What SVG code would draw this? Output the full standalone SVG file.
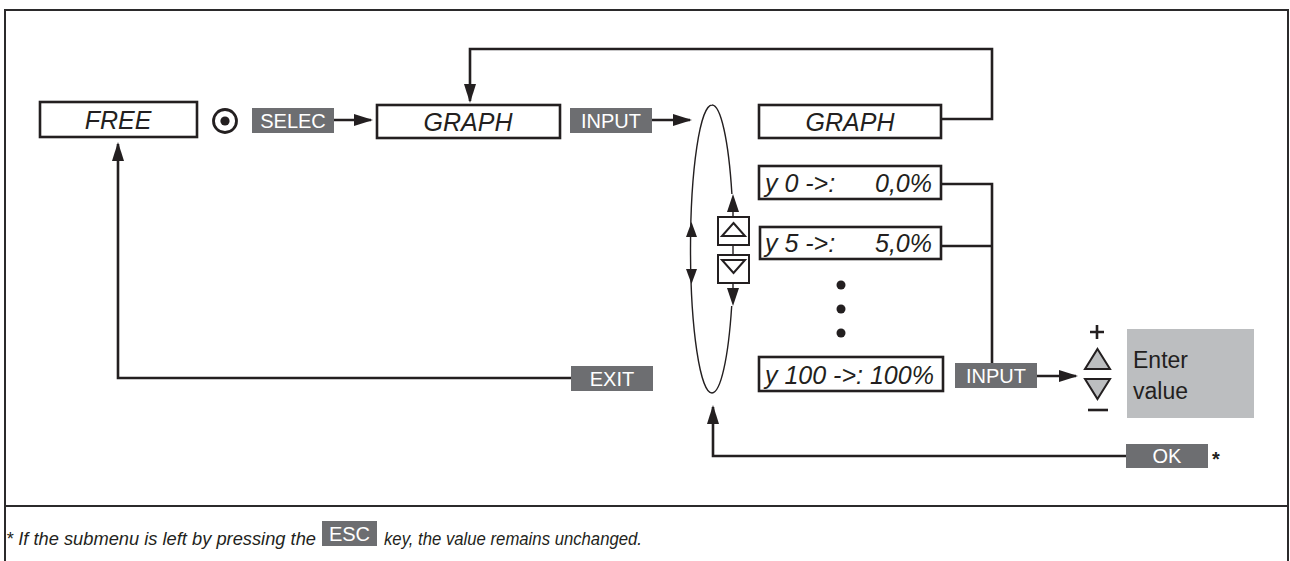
<svg xmlns="http://www.w3.org/2000/svg" width="1290" height="561" viewBox="0 0 1290 561">
<style>
.frame{fill:none;stroke:#2b2a2b;stroke-width:2}
.box{fill:#fff;stroke:#231f20;stroke-width:2.6}
.lbl{fill:#6d6e71}
.lt{font-family:"Liberation Sans",Arial,sans-serif;font-size:20px;fill:#fff;text-anchor:middle}
.bt{font-family:"Liberation Sans",Arial,sans-serif;font-size:25px;font-style:italic;fill:#231f20}
.mid{text-anchor:middle}
.end{text-anchor:end}
.ln{fill:none;stroke:#231f20;stroke-width:2.6}
.thin{fill:none;stroke:#231f20;stroke-width:1.4}
.ah{fill:#231f20}
.ft{font-family:"Liberation Sans",Arial,sans-serif;font-size:18px;font-style:italic;fill:#231f20}
</style>
<defs>
<marker id="arr" markerUnits="userSpaceOnUse" markerWidth="19" markerHeight="12" refX="17" refY="6" orient="auto">
<path d="M0,0 L19,6 L0,12 Z" fill="#231f20"/>
</marker>
</defs>
<rect width="1290" height="561" fill="#fff"/>
<g id="frame">
<path class="frame" d="M5,561 L5,10 L1288,10 L1288,561"/>
<line class="frame" x1="5" y1="506" x2="1288" y2="506"/>
</g>
<g id="connectors">
<line class="ln" x1="334" y1="120" x2="371" y2="120" marker-end="url(#arr)"/>
<line class="ln" x1="652" y1="120" x2="690" y2="120" marker-end="url(#arr)"/>
<path class="ln" d="M941,119 L992,119 L992,49 L470,49 L470,101" marker-end="url(#arr)"/>
<path class="ln" d="M941,184 L992,184 L992,363 M941,246 L992,246"/>
<line class="ln" x1="1037" y1="376" x2="1076" y2="376" marker-end="url(#arr)"/>
<path class="ln" d="M571,378 L118,378 L118,144" marker-end="url(#arr)"/>
<path class="ln" d="M1126,456 L713,456 L713,407" marker-end="url(#arr)"/>
</g>
<g id="cycle">
<path class="thin" d="M712,105 A21.5,144 0 0 0 712,393 M712,105 A21.5,144 0 0 1 731.9,194 M731.7,306 A21.5,144 0 0 1 712,393"/>
<path class="ah" d="M691.5,222 L697,237 L686,237 Z"/>
<path class="ah" d="M691.5,284 L697,269 L686,269 Z"/>
<path class="ah" d="M733,194 L739,212 L727,212 Z"/>
<path class="ah" d="M733,306 L739,288 L727,288 Z"/>
<line class="thin" x1="733" y1="211" x2="733" y2="289"/>
<rect x="718" y="217" width="31" height="28" fill="#fff" stroke="#231f20" stroke-width="2"/>
<rect x="718" y="255" width="31" height="28" fill="#fff" stroke="#231f20" stroke-width="2"/>
<path d="M733.5,223 L745,236 L722,236 Z" fill="none" stroke="#231f20" stroke-width="2"/>
<path d="M733.5,273 L745,260 L722,260 Z" fill="none" stroke="#231f20" stroke-width="2"/>
</g>
<g id="free">
<rect class="box" x="40" y="102" width="157" height="35"/>
<text class="bt mid" x="118" y="129">FREE</text>
</g>
<g id="select-icon">
<circle cx="225" cy="121" r="11.5" fill="none" stroke="#231f20" stroke-width="2.8"/>
<circle cx="225" cy="121" r="4.6" fill="#231f20"/>
</g>
<g id="selec">
<rect class="lbl" x="252" y="108" width="82" height="25"/>
<text class="lt" x="293" y="128">SELEC</text>
</g>
<g id="graph1">
<rect class="box" x="377" y="105" width="183" height="33"/>
<text class="bt mid" x="468" y="131">GRAPH</text>
</g>
<g id="input1">
<rect class="lbl" x="570" y="108" width="82" height="25"/>
<text class="lt" x="611" y="128">INPUT</text>
</g>
<g id="graph2">
<rect class="box" x="759" y="105" width="182" height="33"/>
<text class="bt mid" x="850" y="131">GRAPH</text>
</g>
<g id="y0">
<rect class="box" x="759" y="166" width="182" height="33"/>
<text class="bt" x="765" y="192">y 0 -&gt;:</text>
<text class="bt end" x="932" y="192">0,0%</text>
</g>
<g id="y5">
<rect class="box" x="760" y="227" width="181" height="32"/>
<text class="bt" x="765" y="252">y 5 -&gt;:</text>
<text class="bt end" x="932" y="252">5,0%</text>
</g>
<g id="dots">
<circle cx="841" cy="285" r="4.5" fill="#231f20"/>
<circle cx="841" cy="309" r="4.5" fill="#231f20"/>
<circle cx="841" cy="333" r="4.5" fill="#231f20"/>
</g>
<g id="y100">
<rect class="box" x="759" y="357" width="184" height="34"/>
<text class="bt" x="765" y="384">y 100 -&gt;: 100%</text>
</g>
<g id="input2">
<rect class="lbl" x="955" y="363" width="82" height="25"/>
<text class="lt" x="996" y="383">INPUT</text>
</g>
<g id="plusminus">
<path class="ln" d="M1090,332 L1104,332 M1097,325 L1097,339" stroke-width="2"/>
<path d="M1097.5,349 L1110,369 L1085,369 Z" fill="#bcbec0" stroke="#231f20" stroke-width="2"/>
<path d="M1097.5,399 L1110,379 L1085,379 Z" fill="#bcbec0" stroke="#231f20" stroke-width="2"/>
<line class="ln" x1="1088" y1="410" x2="1108" y2="410"/>
</g>
<g id="enter-value">
<rect x="1127" y="329" width="127" height="89" fill="#bcbec0"/>
<text x="1133" y="368" font-family="Liberation Sans, Arial, sans-serif" font-size="23" fill="#231f20">Enter</text>
<text x="1133" y="399" font-family="Liberation Sans, Arial, sans-serif" font-size="23" fill="#231f20">value</text>
</g>
<g id="exit">
<rect class="lbl" x="571" y="366" width="82" height="25"/>
<text class="lt" x="612" y="386">EXIT</text>
</g>
<g id="ok">
<rect class="lbl" x="1126" y="444" width="82" height="24"/>
<text class="lt" x="1167" y="463">OK</text>
<text x="1212" y="466" font-family="Liberation Sans, Arial, sans-serif" font-size="20" font-weight="bold" fill="#231f20">*</text>
</g>
<g id="footnote">
<text class="ft" x="6" y="545" textLength="310" lengthAdjust="spacingAndGlyphs">* If the submenu is left by pressing the</text>
<rect class="lbl" x="322" y="521" width="55" height="25"/>
<text class="lt" x="349.5" y="541" font-size="19">ESC</text>
<text class="ft" x="384" y="545" textLength="258" lengthAdjust="spacingAndGlyphs">key, the value remains unchanged.</text>
</g>
</svg>
